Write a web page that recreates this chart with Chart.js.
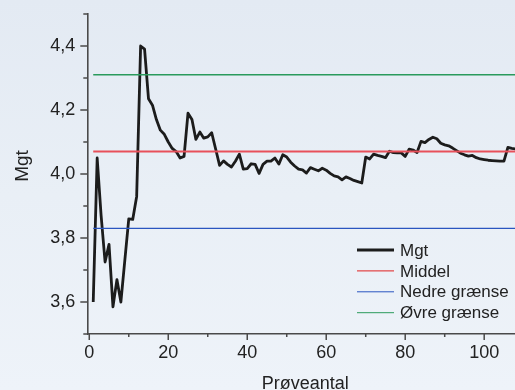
<!DOCTYPE html>
<html>
<head>
<meta charset="utf-8">
<script src="https://cdn.jsdelivr.net/npm/chart.js@4.4.1/dist/chart.umd.min.js"></script>
<style>
  html, body { margin: 0; padding: 0; }
  body { width: 515px; height: 390px; overflow: hidden;
         background: linear-gradient(180deg, #e3eaf3 0%, #e9eff6 50%, #eef3f9 100%); }
  #wrap { position: relative; width: 515px; height: 390px; }
  canvas { display: block; }
</style>
</head>
<body>
<div id="wrap"><canvas id="c" width="515" height="390"></canvas></div>
<script>
// ---- Data ----
const xTitle = 'Prøveantal';
const yTitle = 'Mgt';
const seriesNames = ['Mgt', 'Middel', 'Nedre grænse', 'Øvre grænse'];
const mgt = [
  3.600, 4.050, 3.870, 3.725, 3.780, 3.585, 3.670, 3.600, 3.730, 3.860,
  3.858, 3.930, 4.400, 4.390, 4.235, 4.215, 4.170, 4.137, 4.124, 4.100,
  4.080, 4.070, 4.050, 4.055, 4.190, 4.170, 4.108, 4.131, 4.112, 4.116,
  4.129, 4.078, 4.027, 4.041, 4.030, 4.022, 4.040, 4.062, 4.015, 4.017,
  4.032, 4.030, 4.002, 4.030, 4.040, 4.040, 4.050, 4.031, 4.060, 4.053,
  4.037, 4.025, 4.015, 4.013, 4.003, 4.020, 4.015, 4.010, 4.018, 4.012,
  4.002, 3.994, 3.991, 3.982, 3.991, 3.986, 3.980, 3.976, 3.972, 4.053,
  4.047, 4.062, 4.058, 4.055, 4.051, 4.071, 4.067, 4.066, 4.066, 4.055,
  4.078, 4.075, 4.067, 4.102, 4.098, 4.108, 4.115, 4.110, 4.096, 4.091,
  4.088, 4.081, 4.073, 4.065, 4.060, 4.056, 4.058, 4.051, 4.047, 4.045,
  4.043, 4.042, 4.041, 4.040, 4.040, 4.083, 4.080, 4.078
];
const middel = [4.07, 4.07];
const nedre = [3.83, 3.83];
const oevre = [4.31, 4.31];
const limitX = [1, 108];
const xMajor = [0, 20, 40, 60, 80, 100];
const xMajorLabels = ['0', '20', '40', '60', '80', '100'];
const xMinor = [10, 30, 50, 70, 90];
const yMajor = [3.6, 3.8, 4.0, 4.2, 4.4];
const yMajorLabels = ['3,6', '3,8', '4,0', '4,2', '4,4'];
const yMinor = [3.5, 3.7, 3.9, 4.1, 4.3, 4.5];

// ---- Styles ----
const FONT = "'Liberation Sans', Arial, Helvetica, sans-serif";
const TEXT = '#222222';
const AXIS = '#4a4a4a';
const colors = ['#1c1c1c', '#e8505a', '#2a55c0', '#2a9a5c'];
const widths = [2.8, 2.0, 1.4, 1.4];
const legendWidths = [3, 1, 1, 1];
const legendColors = ['#1c1c1c', '#e02020', '#2a55c0', '#2a9a5c'];

const mgtPts = mgt.map((v, i) => ({ x: i + 1, y: v }));
const hline = arr => arr.map((v, i) => ({ x: limitX[i], y: v }));

const extras = {
  id: 'extras',
  afterDraw(chart) {
    const ctx = chart.ctx, xs = chart.scales.x, ys = chart.scales.y, a = chart.chartArea;
    ctx.save();
    ctx.strokeStyle = AXIS; ctx.lineWidth = 1.5; ctx.lineCap = 'butt';
    ctx.beginPath();
    xMajor.forEach(v => { const p = xs.getPixelForValue(v); ctx.moveTo(p, a.bottom); ctx.lineTo(p, a.bottom + 6); });
    xMinor.forEach(v => { const p = xs.getPixelForValue(v); ctx.moveTo(p, a.bottom); ctx.lineTo(p, a.bottom + 3); });
    yMajor.forEach(v => { const p = ys.getPixelForValue(v); ctx.moveTo(a.left, p); ctx.lineTo(a.left - 7, p); });
    yMinor.forEach(v => { const p = ys.getPixelForValue(v); ctx.moveTo(a.left, p); ctx.lineTo(a.left - 4, p); });
    ctx.stroke();

    // axis titles
    ctx.fillStyle = TEXT;
    ctx.font = '19px ' + FONT;
    ctx.textAlign = 'center'; ctx.textBaseline = 'middle';
    ctx.save();
    ctx.translate(23, (a.top + a.bottom) / 2 - 8);
    ctx.rotate(-Math.PI / 2);
    ctx.fillText(yTitle, 0, 0);
    ctx.restore();
    ctx.font = '18px ' + FONT;
    ctx.textBaseline = 'alphabetic';
    ctx.fillText(xTitle, (a.left + a.right) / 2 + 4, 389);

    // legend
    const x0 = a.right - 158, y0 = a.bottom - 84, dy = 20.9;
    ctx.font = '17px ' + FONT;
    ctx.textAlign = 'left'; ctx.textBaseline = 'middle';
    chart.data.datasets.forEach((ds, i) => {
      const y = y0 + i * dy;
      ctx.strokeStyle = legendColors[i]; ctx.lineWidth = legendWidths[i];
      ctx.beginPath(); ctx.moveTo(x0, y); ctx.lineTo(x0 + 37, y); ctx.stroke();
      ctx.fillStyle = TEXT;
      ctx.fillText(ds.label, x0 + 43, y + 1);
    });
    ctx.restore();
  }
};

new Chart(document.getElementById('c'), {
  type: 'line',
  data: {
    datasets: [
      { label: seriesNames[0], data: mgtPts, borderColor: colors[0], borderWidth: widths[0], pointRadius: 0, tension: 0, borderJoinStyle: 'round', order: 1 },
      { label: seriesNames[1], data: hline(middel), borderColor: colors[1], borderWidth: widths[1], pointRadius: 0, order: 0 },
      { label: seriesNames[2], data: hline(nedre), borderColor: colors[2], borderWidth: widths[2], pointRadius: 0, order: 0 },
      { label: seriesNames[3], data: hline(oevre), borderColor: colors[3], borderWidth: widths[3], pointRadius: 0, order: 0 }
    ]
  },
  options: {
    responsive: false,
    animation: false,
    layout: { padding: { top: 14, left: 0, right: 0, bottom: 0 } },
    plugins: { legend: { display: false }, tooltip: { enabled: false } },
    scales: {
      x: {
        type: 'linear', min: -0.5, max: 107.8,
        afterBuildTicks: s => { s.ticks = xMajor.map(v => ({ value: v })); },
        afterFit: s => { s.height = 56; s.paddingLeft = 0; s.paddingRight = 0; },
        ticks: { callback: (v, i) => xMajorLabels[i], color: TEXT, font: { family: FONT, size: 18 }, padding: 8, maxRotation: 0, autoSkip: false },
        grid: { display: true, drawOnChartArea: false, drawTicks: false },
        border: { display: true, color: AXIS, width: 1.6 }
      },
      y: {
        type: 'linear', min: 3.5, max: 4.5,
        afterBuildTicks: s => { s.ticks = yMajor.map(v => ({ value: v })); },
        afterFit: s => { s.width = 87.3; s.paddingTop = 0; s.paddingBottom = 0; },
        ticks: { callback: (v, i) => yMajorLabels[i], color: TEXT, font: { family: FONT, size: 18 }, padding: 12, autoSkip: false },
        grid: { display: true, drawOnChartArea: false, drawTicks: false },
        border: { display: true, color: AXIS, width: 1.6 }
      }
    }
  },
  plugins: [extras]
});
</script>
</body>
</html>
